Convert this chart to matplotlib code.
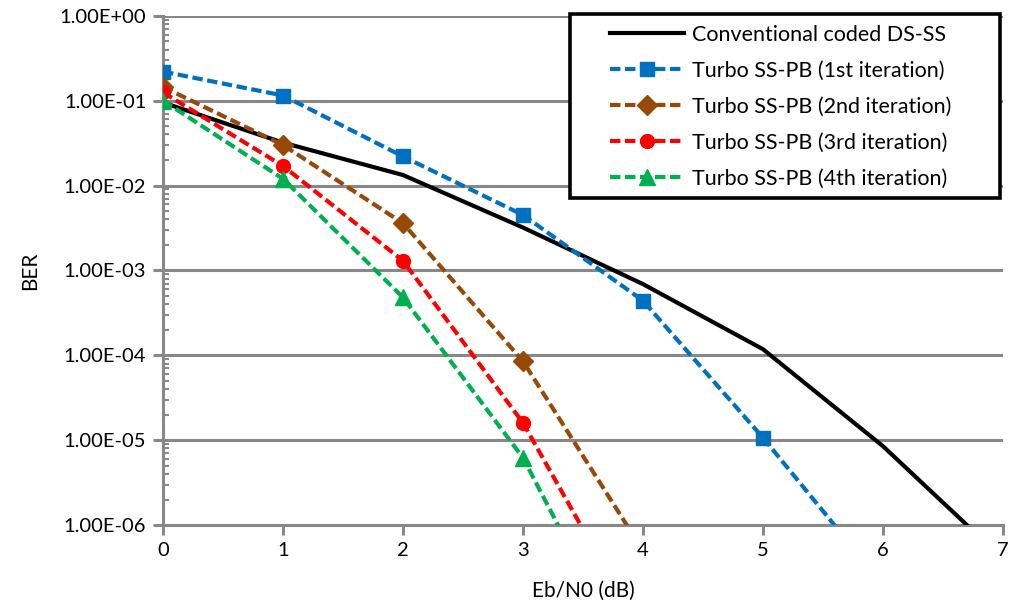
import matplotlib
matplotlib.use("Agg")
import matplotlib.pyplot as plt
from matplotlib.patches import Rectangle
from matplotlib.ticker import LogLocator, NullFormatter, FixedLocator

x = [0, 1, 2, 3, 4, 5, 6, 7]
conv = [0.095, 0.032, 0.0133, 3.2e-3, 6.9e-4, 1.18e-4, 8.5e-6, 4e-7]
x1 = [0, 1, 2, 3, 4, 5, 6]
it1 = [0.22, 0.115, 0.022, 4.5e-3, 4.4e-4, 1.07e-5, 2e-7]
x2 = [0, 1, 2, 3, 4]
it2 = [0.145, 0.030, 3.6e-3, 8.5e-5, 5e-7]
x3 = [0, 1, 2, 3, 4]
it3 = [0.125, 0.017, 1.3e-3, 1.6e-5, 5e-8]
x4 = [0, 1, 2, 3, 4]
it4 = [0.10, 0.012, 4.8e-4, 6.2e-6, 1.2e-8]
yticks = [1e0, 1e-1, 1e-2, 1e-3, 1e-4, 1e-5, 1e-6]
ytick_labels = ["1.00E+00", "1.00E-01", "1.00E-02", "1.00E-03", "1.00E-04", "1.00E-05", "1.00E-06"]

plt.rcParams['font.family'] = ['Lato', 'DejaVu Sans']

W, H = 1010, 607
fig = plt.figure(figsize=(W / 100, H / 100), dpi=100)
ax = fig.add_axes([0.1614, 0.135, 0.8316, 0.839])

grid_c = '#888888'
lw = 3.0
dash = (0, (2.5, 1.1))
ax.plot(x, conv, color='black', lw=lw, label='Conventional coded DS-SS', zorder=5)
ax.plot(x1, it1, color='#0070C0', lw=lw, ls=dash, marker='s', ms=10, label='Turbo SS-PB (1st iteration)', zorder=5)
ax.plot(x2, it2, color='#984807', lw=lw, ls=dash, marker='D', ms=10, label='Turbo SS-PB (2nd iteration)', zorder=5)
ax.plot(x3, it3, color='#FF0000', lw=lw, ls=dash, marker='o', ms=10, label='Turbo SS-PB (3rd iteration)', zorder=5)
ax.plot(x4, it4, color='#00B050', lw=lw, ls=dash, marker='^', ms=11, label='Turbo SS-PB (4th iteration)', zorder=5)

ax.set_yscale('log')
ax.set_xlim(0, 7)
ax.set_ylim(1e-6, 1)
ax.set_xticks(range(8))
ax.yaxis.set_major_locator(FixedLocator(yticks))
ax.set_yticklabels(ytick_labels)
ax.yaxis.set_minor_locator(LogLocator(base=10, subs=range(2, 10), numticks=20))
ax.yaxis.set_minor_formatter(NullFormatter())

ax.grid(axis='y', which='major', color=grid_c, lw=2.2)
ax.set_axisbelow(True)
for s in ['top', 'right']:
    ax.spines[s].set_visible(False)
for s in ['left', 'bottom']:
    ax.spines[s].set_color(grid_c)
    ax.spines[s].set_linewidth(2.2)

ax.tick_params(axis='both', which='major', direction='out', length=7, width=2.2, color=grid_c,
               labelsize=14.5, pad=5)
ax.tick_params(axis='y', which='minor', direction='in', length=4, width=1.5, color=grid_c)

ax.set_xlabel('Eb/N0 (dB)', fontsize=15, labelpad=16)
ax.set_ylabel('BER', fontsize=15, labelpad=14)

# legend box
box = Rectangle((570 / W, 1 - 198 / H), 430 / W, 184 / H, transform=fig.transFigure,
                facecolor='white', edgecolor='black', lw=2.6, zorder=3)
fig.patches.append(box)

handles, labels = ax.get_legend_handles_labels()
leg = fig.legend(handles, labels, loc='upper left', bbox_to_anchor=(610 / W, 1 - 25 / H),
                 bbox_transform=fig.transFigure, fontsize=15.5, frameon=False,
                 handlelength=3.45, borderpad=0.0, labelspacing=0.74, handletextpad=0.35,
                 borderaxespad=0.0)
leg.set_zorder(4)

fig.savefig('out.png', dpi=100)
